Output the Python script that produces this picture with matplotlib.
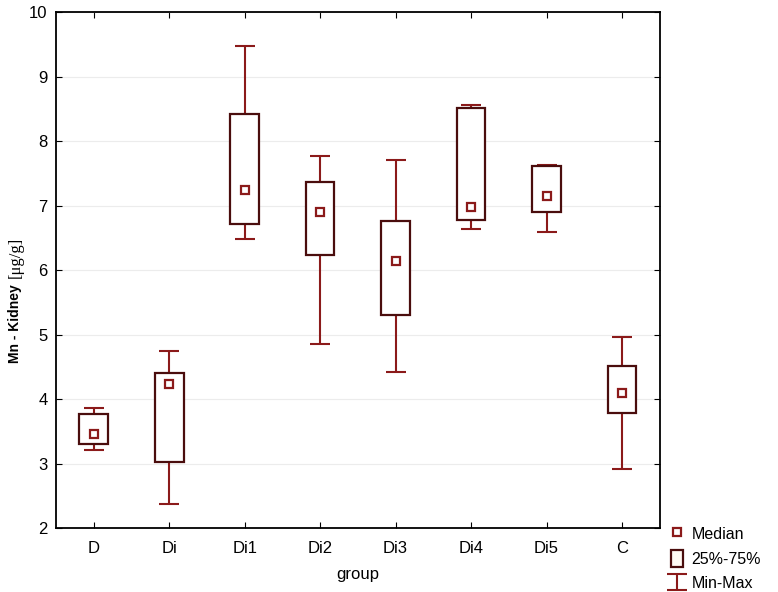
import numpy as np
import matplotlib
matplotlib.use("Agg")
import matplotlib.pyplot as plt
from matplotlib.patches import Patch
from matplotlib.lines import Line2D

# values (Mn in kidney, ug/g)
groups = ["D", "Di", "Di1", "Di2", "Di3", "Di4", "Di5", "C"]
median = [3.46, 4.23, 7.25, 6.90, 6.15, 6.98, 7.15, 4.09]
q1 = [3.31, 3.02, 6.71, 6.23, 5.31, 6.78, 6.90, 3.78]
q3 = [3.77, 4.41, 8.42, 7.37, 6.77, 8.52, 7.61, 4.52]
vmin = [3.21, 2.37, 6.49, 4.86, 4.42, 6.64, 6.59, 2.91]
vmax = [3.87, 4.74, 9.48, 7.78, 7.71, 8.56, 7.63, 4.97]

box_col = "#4a0d0d"
wh_col = "#8b1a1a"

plt.rcParams['font.family'] = ['Liberation Sans', 'DejaVu Sans']

fig = plt.figure(figsize=(7.78, 5.92), dpi=100)
ax = fig.add_axes([0.072, 0.108, 0.776, 0.871])

x = np.arange(len(groups))
median = np.array(median); q1 = np.array(q1); q3 = np.array(q3)
vmin = np.array(vmin); vmax = np.array(vmax)

ax.grid(axis="y", color="#ececec", lw=0.8)
ax.set_axisbelow(True)

mid = (vmin + vmax) / 2
eb = ax.errorbar(x, mid, yerr=(vmax - vmin) / 2, fmt="none", ecolor=wh_col,
                 elinewidth=1.5, capsize=7, capthick=1.5, zorder=2)
bars = ax.bar(x, q3 - q1, bottom=q1, width=0.38, facecolor="white",
              edgecolor=box_col, linewidth=1.6, zorder=3)
med, = ax.plot(x, median, ls="none", marker="s", ms=6, mfc="white",
               mec=wh_col, mew=1.6, zorder=4)

ax.set_xlim(-0.5, 7.5)
ax.set_ylim(2, 10)
ax.set_xticks(x)
ax.set_xticklabels(groups)
ax.set_yticks(range(2, 11))
ax.tick_params(axis="both", direction="in", top=True, right=True, length=4,
               labelsize=12)
ax.tick_params(axis="x", pad=9)
ax.tick_params(axis="y", pad=6)
for sp in ax.spines.values():
    sp.set_linewidth(1.3)

ax.set_xlabel("group", fontsize=12, labelpad=8)

fig.text(0.019, 0.387, "Mn - Kidney", rotation=90, fontsize=10, fontweight="bold",
         ha="center", va="bottom")
fig.text(0.020, 0.530, "[\u03bcg/g]", rotation=90, fontsize=12, family="Liberation Serif",
         ha="center", va="bottom")

handles = [
    Line2D([], [], ls="none", marker="s", ms=5.5, mfc="white", mec=wh_col, mew=1.6),
    Patch(facecolor="#fffaf4", edgecolor=box_col, linewidth=1.6),
    eb,
]
fig.legend(handles, ["Median", "25%-75%", "Min-Max"], loc="upper left",
           bbox_to_anchor=(0.863, 0.112), frameon=False, fontsize=11.5,
           handlelength=0.75, handleheight=1.2, handletextpad=0.5,
           labelspacing=0.5, borderaxespad=0, borderpad=0)

fig.savefig("out.png", dpi=100)
